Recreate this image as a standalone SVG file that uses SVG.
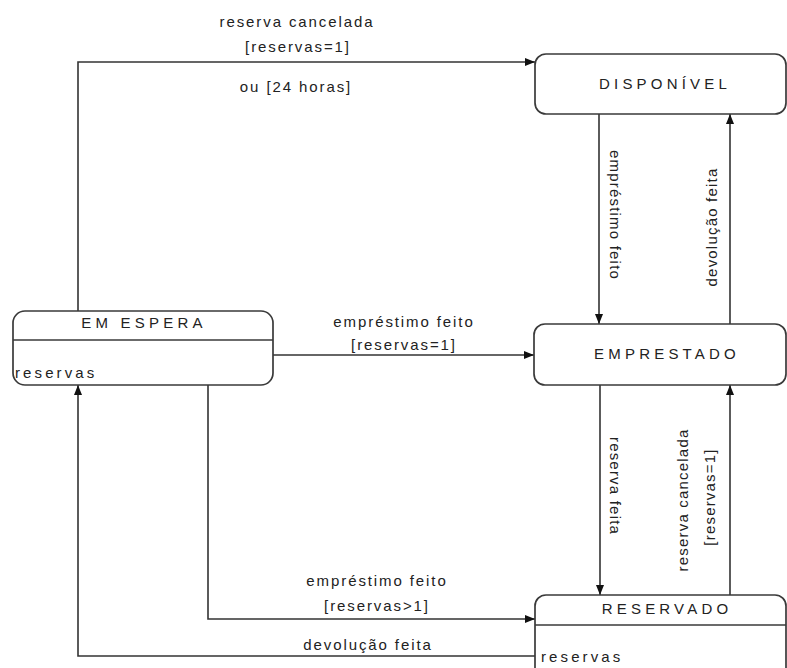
<svg xmlns="http://www.w3.org/2000/svg" width="787" height="668" viewBox="0 0 787 668">
<style>
.box{fill:#fff;stroke:#3a3a3a;stroke-width:1.7}
.div{stroke:#3a3a3a;stroke-width:1.7}
.title{font-family:"Liberation Sans",Arial,sans-serif;font-size:15px;letter-spacing:4.2px;fill:#222;text-anchor:middle}
.attr{font-family:"Liberation Sans",Arial,sans-serif;font-size:15px;letter-spacing:3.1px;fill:#222}
.lbl{font-family:"Liberation Sans",Arial,sans-serif;font-size:15px;letter-spacing:1.9px;fill:#222;text-anchor:middle}
.vl{font-family:"Liberation Sans",Arial,sans-serif;font-size:15px;letter-spacing:1.2px;fill:#222;text-anchor:middle}
.edge{fill:none;stroke:#333;stroke-width:1.6}
</style>
<defs>
<marker id="arr" markerUnits="userSpaceOnUse" markerWidth="10" markerHeight="10" viewBox="0 0 10 10" refX="10" refY="5" orient="auto">
<path d="M0,1 L10,5 L0,9 Z" fill="#111"/>
</marker>
</defs>
<rect width="787" height="668" fill="#fff"/>
<g id="connectors">
<path class="edge" d="M78,311 V62 H535" marker-end="url(#arr)"/>
<path class="edge" d="M599,114 V324" marker-end="url(#arr)"/>
<path class="edge" d="M730,324 V114" marker-end="url(#arr)"/>
<path class="edge" d="M273,355 H534" marker-end="url(#arr)"/>
<path class="edge" d="M600,385 V595" marker-end="url(#arr)"/>
<path class="edge" d="M730,595 V385" marker-end="url(#arr)"/>
<path class="edge" d="M208,385 V619 H535" marker-end="url(#arr)"/>
<path class="edge" d="M535,656 H78 V385" marker-end="url(#arr)"/>
<text class="lbl" x="297" y="27">reserva cancelada</text>
<text class="lbl" x="298" y="52">[reservas=1]</text>
<text class="lbl" x="296" y="92">ou [24 horas]</text>
<text class="vl" transform="translate(615,215) rotate(90)" dy="0.35em">empréstimo feito</text>
<text class="vl" transform="translate(712,227) rotate(-90)" dy="0.35em">devolução feita</text>
<text class="lbl" x="404" y="327">empréstimo feito</text>
<text class="lbl" x="404" y="350">[reservas=1]</text>
<text class="vl" transform="translate(615,486) rotate(90)" dy="0.35em">reserva feita</text>
<text class="vl" transform="translate(683,500) rotate(-90)" dy="0.35em">reserva cancelada</text>
<text class="vl" transform="translate(710,497) rotate(-90)" dy="0.35em">[reservas=1]</text>
<text class="lbl" x="377" y="586">empréstimo feito</text>
<text class="lbl" x="377" y="611">[reservas&gt;1]</text>
<text class="lbl" x="368" y="650">devolução feita</text>
</g>
<g id="disponivel">
<rect class="box" x="535" y="54" width="251" height="60" rx="11"/>
<text class="title" x="665" y="89">DISPONÍVEL</text>
</g>
<g id="emprestado">
<rect class="box" x="534" y="324" width="252" height="61" rx="11"/>
<text class="title" x="667" y="359">EMPRESTADO</text>
</g>
<g id="em-espera">
<rect class="box" x="13" y="311" width="260" height="74" rx="12"/>
<line class="div" x1="13" y1="340" x2="273" y2="340"/>
<text class="title" x="144" y="328">EM ESPERA</text>
<text class="attr" x="15" y="378">reservas</text>
</g>
<g id="reservado">
<rect class="box" x="535" y="595" width="251" height="95" rx="11"/>
<line class="div" x1="535" y1="625" x2="786" y2="625"/>
<text class="title" x="667" y="614">RESERVADO</text>
<text class="attr" x="541" y="662">reservas</text>
</g>
</svg>
